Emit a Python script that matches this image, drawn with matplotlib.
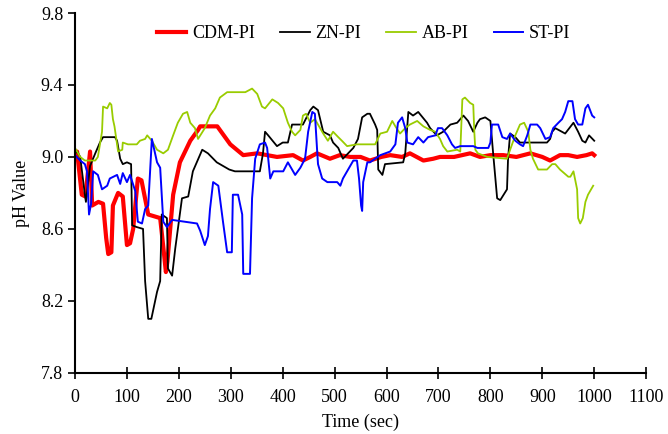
import matplotlib
matplotlib.use('Agg')
import matplotlib.pyplot as plt

# (time sec, pH)
cdm_pi = [(0, 9.0), (4, 9.03), (13, 8.79), (20, 8.78), (29, 9.03), (33, 8.73), (45, 8.75),
          (54, 8.74), (60, 8.55), (64, 8.46), (70, 8.47), (73, 8.73), (83, 8.8), (92, 8.78),
          (100, 8.51), (106, 8.52), (112, 8.6), (121, 8.88), (128, 8.87), (141, 8.68),
          (164, 8.66), (170, 8.5), (175, 8.36), (178, 8.42), (189, 8.79), (202, 8.97),
          (222, 9.09), (237, 9.15), (241, 9.17), (274, 9.17), (299, 9.07), (324, 9.01),
          (351, 9.02), (389, 9.0), (420, 9.01), (439, 8.98), (453, 9.0), (466, 9.02),
          (491, 8.99), (510, 9.01), (530, 9.0), (550, 9.0), (568, 8.98), (590, 9.0),
          (607, 9.01), (630, 9.0), (645, 9.02), (671, 8.98), (690, 8.99), (703, 9.0),
          (730, 9.0), (761, 9.02), (780, 9.0), (800, 9.01), (825, 9.01), (850, 9.0),
          (877, 9.02), (900, 9.0), (915, 8.98), (934, 9.01), (950, 9.01), (967, 9.0),
          (985, 9.01), (996, 9.02), (1000, 9.01)]

zn_pi = [(0, 9.02), (4, 9.03), (10, 9.0), (19, 8.79), (21, 8.75), (29, 8.95), (39, 9.02),
         (48, 9.08), (54, 9.11), (77, 9.11), (81, 9.09), (87, 8.99), (92, 8.96), (100, 8.97),
         (108, 8.96), (110, 8.62), (119, 8.61), (131, 8.6), (135, 8.31), (141, 8.1),
         (147, 8.1), (158, 8.25), (164, 8.31), (167, 8.68), (177, 8.66), (179, 8.38),
         (187, 8.34), (193, 8.49), (206, 8.77), (218, 8.78), (227, 8.92), (245, 9.04),
         (256, 9.02), (273, 8.97), (285, 8.95), (297, 8.93), (308, 8.92),
         (356, 8.92), (362, 9.02), (366, 9.14), (372, 9.12), (389, 9.06), (400, 9.08),
         (410, 9.08), (418, 9.18), (439, 9.18), (453, 9.26), (459, 9.28), (468, 9.26),
         (478, 9.14), (491, 9.12), (497, 9.08), (507, 9.05), (516, 8.99), (526, 9.02),
         (536, 9.05), (545, 9.1), (553, 9.22), (563, 9.24), (568, 9.24), (578, 9.18),
         (582, 9.15), (584, 8.93), (592, 8.9), (597, 8.96), (632, 8.97), (636, 9.02),
         (642, 9.25), (651, 9.23), (661, 9.25), (678, 9.19), (684, 9.16), (697, 9.12),
         (709, 9.14), (723, 9.18), (736, 9.19), (748, 9.23), (757, 9.2), (767, 9.14),
         (775, 9.19), (780, 9.21), (790, 9.22), (800, 9.2), (805, 9.03), (813, 8.77),
         (819, 8.76), (832, 8.82), (834, 8.99), (838, 9.13), (848, 9.11), (857, 9.08),
         (909, 9.08), (915, 9.1), (919, 9.14), (925, 9.16), (944, 9.13), (960, 9.19),
         (969, 9.14), (977, 9.09), (983, 9.08), (990, 9.12), (1000, 9.09)]

ab_pi = [(0, 9.05), (10, 9.0), (19, 8.98), (39, 8.98), (44, 9.0), (52, 9.14), (54, 9.28),
         (62, 9.27), (67, 9.3), (70, 9.29), (73, 9.21), (76, 9.17), (83, 9.03), (91, 9.04),
         (92, 9.08), (102, 9.07), (119, 9.07), (125, 9.09), (135, 9.1), (139, 9.12),
         (148, 9.09), (158, 9.04), (170, 9.02), (179, 9.04), (189, 9.12), (198, 9.19),
         (208, 9.24), (216, 9.25), (222, 9.19), (231, 9.16), (237, 9.1), (250, 9.16),
         (260, 9.23), (270, 9.27), (279, 9.33), (293, 9.36), (328, 9.36), (341, 9.38),
         (351, 9.35), (360, 9.28), (366, 9.27), (380, 9.32), (391, 9.3), (401, 9.27),
         (410, 9.19), (418, 9.14), (424, 9.12), (434, 9.15), (439, 9.23), (445, 9.24),
         (453, 9.19), (462, 9.21), (468, 9.18), (472, 9.16), (478, 9.13), (487, 9.09),
         (497, 9.14), (507, 9.11), (514, 9.09), (524, 9.06), (543, 9.07), (578, 9.07),
         (588, 9.13), (601, 9.14), (611, 9.2), (617, 9.17), (626, 9.13), (636, 9.16),
         (645, 9.18), (659, 9.2), (671, 9.17), (684, 9.15), (694, 9.14), (703, 9.1),
         (709, 9.06), (717, 9.03), (736, 9.04), (742, 9.03), (746, 9.32), (751, 9.33),
         (761, 9.3), (767, 9.29), (769, 9.14), (771, 9.04), (776, 9.02), (794, 9.0),
         (832, 8.99), (838, 9.04), (848, 9.12), (857, 9.18), (865, 9.19), (873, 9.14),
         (877, 9.04), (882, 8.99), (892, 8.93), (909, 8.93), (919, 8.96), (925, 8.96),
         (934, 8.93), (950, 8.89), (954, 8.89), (960, 8.92), (967, 8.82), (969, 8.66),
         (973, 8.63), (978, 8.66), (983, 8.75), (988, 8.79), (998, 8.84)]

st_pi = [(0, 9.01), (10, 8.98), (19, 8.96), (23, 8.92), (27, 8.68), (31, 8.74), (35, 8.92),
         (44, 8.9), (52, 8.82), (62, 8.84), (67, 8.88), (81, 8.9), (87, 8.85), (92, 8.91),
         (100, 8.86), (106, 8.9), (116, 8.81), (121, 8.64), (129, 8.63), (135, 8.71),
         (141, 8.73), (148, 9.1), (158, 8.97), (164, 8.94), (170, 8.64), (177, 8.61),
         (187, 8.65), (235, 8.63), (241, 8.59), (250, 8.51), (256, 8.56), (260, 8.71),
         (266, 8.86), (276, 8.84), (285, 8.64), (293, 8.47), (302, 8.47), (304, 8.79),
         (314, 8.79), (322, 8.68), (324, 8.35), (337, 8.35), (341, 8.77), (347, 8.99),
         (356, 9.07), (366, 9.08), (370, 9.05), (376, 8.88), (382, 8.92), (401, 8.92),
         (410, 8.97), (424, 8.9), (434, 8.94), (443, 8.99), (449, 9.14), (457, 9.25),
         (462, 9.24), (466, 9.05), (468, 8.96), (476, 8.88), (486, 8.86), (505, 8.86),
         (511, 8.84), (516, 8.88), (526, 8.93), (536, 8.98), (543, 8.98), (547, 8.88),
         (551, 8.73), (553, 8.7), (555, 8.86), (563, 8.97), (568, 8.97), (578, 8.99),
         (588, 9.01), (607, 9.03), (617, 9.07), (622, 9.19), (630, 9.22), (636, 9.16),
         (640, 9.08), (651, 9.07), (661, 9.11), (671, 9.08), (680, 9.11), (694, 9.12),
         (699, 9.16), (707, 9.16), (717, 9.12), (726, 9.07), (732, 9.05), (742, 9.06),
         (767, 9.06), (775, 9.05), (796, 9.05), (800, 9.08), (803, 9.18), (815, 9.18),
         (823, 9.11), (832, 9.1), (838, 9.13), (848, 9.09), (857, 9.07), (863, 9.06),
         (871, 9.12), (877, 9.18), (890, 9.18), (896, 9.16), (906, 9.1), (915, 9.11),
         (921, 9.16), (931, 9.19), (938, 9.21), (944, 9.25), (950, 9.31), (958, 9.31),
         (963, 9.21), (969, 9.18), (977, 9.18), (983, 9.27), (988, 9.29), (996, 9.23),
         (1000, 9.22)]

xticks = list(range(0, 1101, 100))
yticks = [7.8, 8.2, 8.6, 9.0, 9.4, 9.8]

plt.rcParams['font.family'] = ['Liberation Serif', 'DejaVu Serif']
plt.rcParams['font.size'] = 13

fig = plt.figure(figsize=(6.68, 4.34), dpi=100)
ax = fig.add_axes([0.1123, 0.141, 0.855, 0.829])

series = [(cdm_pi, 'CDM-PI', '#ff0000', 3.0),
          (zn_pi, 'ZN-PI', '#000000', 1.3),
          (ab_pi, 'AB-PI', '#99cc00', 1.3),
          (st_pi, 'ST-PI', '#0000ff', 1.4)]
for data, name, col, lw in series:
    t, ph = zip(*data)
    ax.plot(t, ph, color=col, lw=lw, label=name)

ax.set_xlim(0, 1100)
ax.set_ylim(7.8, 9.8)
ax.set_xticks(xticks)
ax.set_yticks(yticks)
ax.set_yticklabels(['%.1f' % v for v in yticks])
ax.tick_params(axis='x', direction='inout', length=8, width=1.2, pad=8)
ax.tick_params(axis='y', direction='out', length=5, width=1.2)
for s in ['top', 'right']:
    ax.spines[s].set_visible(False)
for s in ['left', 'bottom']:
    ax.spines[s].set_linewidth(1.5)

ax.set_xlabel('Time (sec)', labelpad=5)
ax.set_ylabel('pH Value', labelpad=8)
ax.legend(loc='upper center', bbox_to_anchor=(0.505, 1.012), ncol=4, frameon=False,
          handlelength=1.65, columnspacing=1.4, handletextpad=0.3)

fig.savefig('out.png', dpi=100)
